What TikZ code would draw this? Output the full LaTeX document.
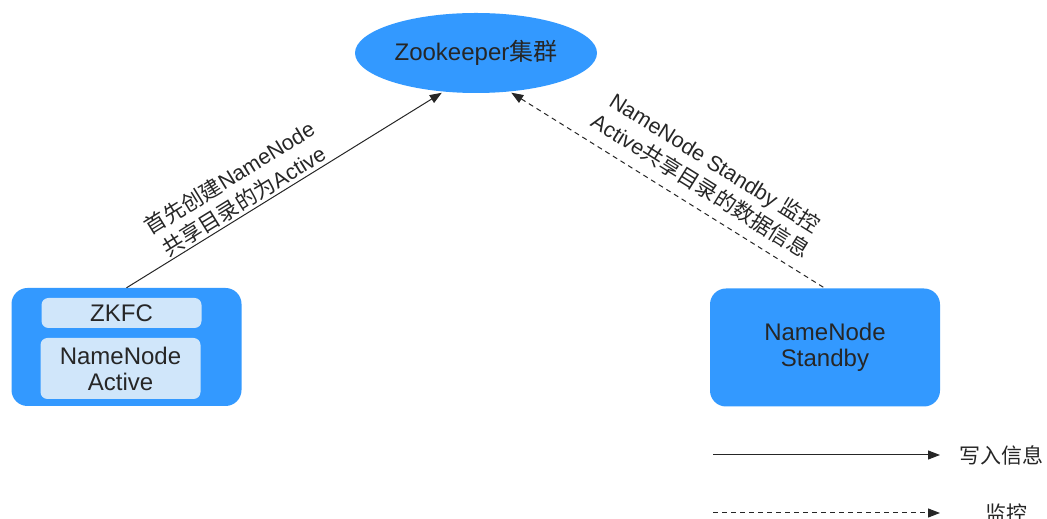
\documentclass[tikz,border=0pt]{standalone}
\usepackage{fontspec}
\setmainfont{Liberation Sans}
\newfontfamily\cjk{Noto Sans CJK SC}
\newcommand{\zh}[1]{{\cjk #1}}
\usepackage{xcolor}
\usepackage{tikz}
\usetikzlibrary{positioning,arrows.meta,shapes.geometric}
\definecolor{zkblue}{RGB}{51,153,255}
\definecolor{zklight}{RGB}{208,230,250}
\definecolor{zktext}{RGB}{38,38,38}

\begin{document}
\begin{tikzpicture}[
    x=1pt, y=1pt,
    cluster/.style={ellipse, fill=zkblue, minimum width=242pt, minimum height=80pt, inner sep=0pt, text=zktext, font=\fontsize{24}{26}\selectfont},
    host/.style={rectangle, rounded corners=16pt, fill=zkblue, minimum width=230pt, minimum height=118pt, align=center, text=zktext, font=\fontsize{24}{26}\selectfont},
    part/.style={rectangle, rounded corners=7pt, fill=zklight, minimum width=160pt, inner sep=0pt, align=center, text=zktext, font=\fontsize{24}{26}\selectfont},
    write/.style={line width=1pt, draw=zktext, -{Triangle[length=12pt,width=9pt]}},
    watch/.style={write, dash pattern=on 5pt off 4pt},
    watchback/.style={watch, {Triangle[length=12pt,width=9pt]}-},
    note/.style={sloped, align=center, inner sep=2pt, text=zktext, font=\fontsize{21.5}{27}\selectfont},
    key/.style={text=zktext, font=\fontsize{21}{25}\selectfont}
  ]
  \useasboundingbox (0,0) rectangle (1047,519);

  % Nodes
  \node[cluster] (zk) at (476,466) {Zookeeper\zh{集群}};
  \node[host] (act) at (126.5,172) {};
  \node[part, minimum height=30pt] (zkfc) at (121.5,206) {ZKFC};
  \node[part, minimum height=61pt] (nna) at (120.5,150.5) {NameNode\\Active};
  \node[host] (stb) at (825,171.5) {NameNode\\Standby};

  % Edges
  \draw[write, shorten >=2pt] (act.north) -- node[note, above, pos=0.39] {\zh{首先创建}NameNode\\\zh{共享目录的为}Active} (zk.230);
  \draw[watchback, shorten <=2pt] (zk.311) -- node[note, above=9pt, pos=0.57] {NameNode Standby \zh{监控}\\Active\zh{共享目录的数据信息}} (stb.north);

  % Legend
  \coordinate (w0) at (713,64);
  \coordinate (w1) at (940,64);
  \node[key] (wtext) at (1001,64) {\zh{写入信息}};
  \coordinate (m0) at (713,6);
  \coordinate (m1) at (940,6);
  \node[key] (mtext) at (1006,6) {\zh{监控}};
  \draw[write] (w0) -- (w1);
  \draw[watch] (m0) -- (m1);
\end{tikzpicture}
\end{document}
